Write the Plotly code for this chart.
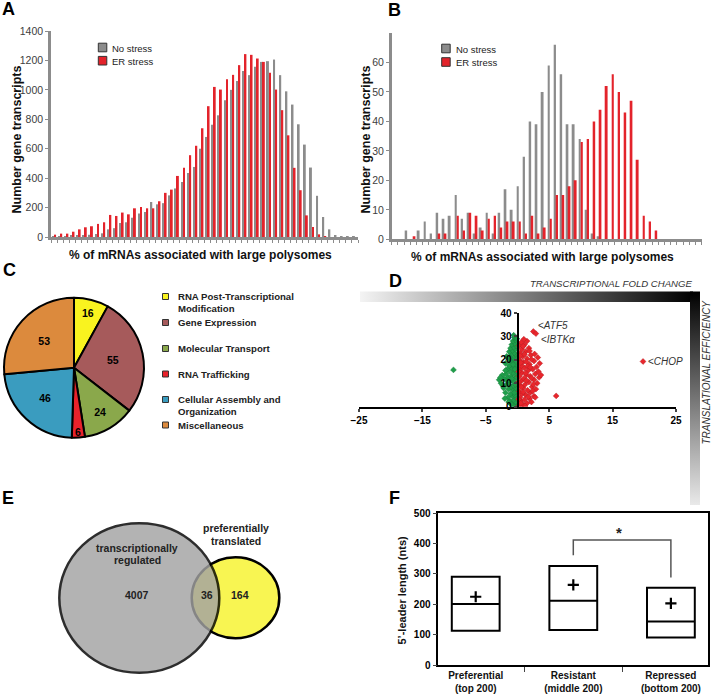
import plotly.graph_objects as go

W, H = 712, 698
FONT = "Liberation Sans, Arial, sans-serif"

# ---------------- data ----------------
bins = list(range(50))
# panel A: all transcripts
a_no_stress = [3, 5, 5, 8, 10, 12, 15, 20, 25, 52, 60, 95, 100, 131, 160, 170, 238, 222, 230, 283,
               330, 374, 435, 476, 600, 680, 763, 827, 930, 1000, 1060, 1128, 1100, 1157, 1190, 1195,
               1206, 1100, 990, 900, 766, 628, 472, 280, 136, 52, 11, 5, 2, 1]
a_er_stress = [16, 23, 23, 36, 52, 66, 73, 89, 100, 150, 143, 166, 154, 195, 204, 195, 195, 243, 300, 322,
               415, 470, 556, 620, 739, 889, 1020, 1002, 1072, 1102, 1168, 1243, 1238, 1213, 1190, 1116,
               1002, 862, 691, 470, 318, 147, 68, 18, 3, 0, 0, 0, 0, 0]
# panel B: selected transcripts
b_no_stress = [0, 0, 3, 0, 3, 6, 2, 9, 7, 8, 15, 7, 9, 2, 4, 9, 2, 9, 17, 10,
               18, 28, 40, 39, 50, 59, 66, 56, 39, 39, 34, 10, 2, 1, 0, 0, 0, 0, 0, 0,
               0, 0, 0, 0, 0, 0, 0, 0, 0, 0]
b_er_stress = [0, 0, 0, 1, 0, 0, 0, 2, 2, 0, 8, 3, 9, 8, 3, 7, 8, 4, 6, 6,
               6, 2, 8, 2, 4, 7, 15, 15, 18, 20, 33, 34, 40, 44, 52, 56, 50, 43, 47, 27,
               8, 6, 3, 0, 0, 0, 0, 0, 0, 0]

# panel C
pie_labels = ["RNA Post-Transcriptional<br>Modification", "Gene Expression", "Molecular Transport",
              "RNA Trafficking", "Cellular Assembly and<br>Organization", "Miscellaneous"]
pie_values = [16, 55, 24, 6, 46, 53]
pie_colors = ["#f9f31f", "#a65a5b", "#8aa84b", "#e8222b", "#3a9cbf", "#dc8a3d"]

# panel D
d_down_x = [-0.2, -0.5, -0.9, -0.3, -1.2, -0.6, -0.1, -1.5, -0.8, -0.4, -1.1, -1.9, -0.2, -0.7, -1.4,
            -2.2, -0.3, -1.0, -0.6, -1.7, -2.6, -0.2, -1.3, -0.8, -2.9, -2.1, -0.4, -1.5, -1.0, -2.4,
            -0.2, -1.8, -0.7, -1.2, -0.3, -1.6, -0.9, -0.5, -1.3, -0.2, -1.9, -0.8, -1.1, -0.4, -1.5,
            -0.6, -1.7, -0.2, -1.0, -0.5, -1.3, -0.8, -0.3, -1.1, -0.6, -0.2, -0.9, -0.4, -0.7, -0.3,
            -0.5, -0.6, -0.1, -1.4, -2.0, -0.5, -1.6, -2.3, -0.9, -0.4, -1.2, -0.7, -0.1, -0.1, -0.3,
            -2.7, -1.9, -0.6, -1.0, -10.1]
d_down_y = [0.5, 1, 1.5, 2, 2.5, 3, 3.5, 4, 4.5, 5, 5.5, 6, 6.5, 7, 7.5,
            8, 8, 8.5, 9, 9.5, 10, 10, 10.5, 11, 11.5, 12, 12, 12.5, 13, 13.5,
            13.5, 14, 14.5, 15, 15.5, 16, 16.5, 17, 17.5, 18, 18.5, 19, 19.5, 20, 20.5,
            21, 21.5, 22, 22.5, 23, 23.5, 24, 24.5, 25, 25.5, 26, 26.5, 27, 28, 28.5,
            29.5, 30.5, 29, 2, 3.5, 6, 11, 9, 12, 16, 21, 18, 20.5, 12.5, 9.5,
            12.5, 15.5, 0.3, 1.0, 15.7]
d_up_x = [0.3, 0.8, 1.5, 2.2, 0.5, 1.1, 1.9, 0.4, 2.6, 1.3, 0.7, 2.0, 0.3, 1.6, 2.9,
          0.9, 2.3, 0.4, 1.2, 3.1, 1.8, 0.6, 2.6, 1.0, 3.4, 0.3, 2.0, 1.4, 2.8, 0.7,
          3.3, 1.7, 0.4, 2.4, 1.1, 3.0, 0.6, 1.9, 3.5, 0.9, 2.6, 0.3, 1.5, 3.2, 0.8,
          2.1, 0.4, 1.3, 2.7, 0.7, 1.8, 0.3, 1.1, 0.6, 1.5, 1.0, 2.5, 2.9, 6.1, 19.8,
          0.5, 1.2, 0.2, 1.7, 0.9, 2.5, 1.4, 0.2, 2.2, 1.6, 0.5, 2.2, 1.1, 0.2, 1.9,
          0.6, 1.3, 2.0, 0.9, 3.7, 2.4, 2.8, 0.4, 1.4]
d_up_y = [0.5, 1, 1.5, 2, 2.5, 3, 3.5, 4, 4.5, 5, 5.5, 6, 6.5, 7, 7.5,
          8, 8.5, 9, 9.5, 10, 10.5, 11, 11.5, 12, 12.5, 13, 13, 13.5, 14, 14.5,
          15, 15.5, 16, 16, 16.5, 17, 17.5, 18, 18.5, 19, 19.5, 20, 20.5, 21, 21.5,
          22, 23, 23.5, 22.5, 24.5, 25, 26, 26.5, 27.5, 28, 28.8, 32.1, 31.2, 4.6, 19.3,
          1.5, 0.3, 3.2, 4.2, 6.3, 9.5, 11.2, 10.5, 12.3, 17.3, 18.8, 20.2, 22.3, 15, 23.8,
          8.4, 14.3, 16.8, 25.8, 13.5, 6.7, 4, 21.8, 19.2]
d_genes = ["&lt;<i>ATF5</i>", "&lt;<i>IBTKα</i>", "&lt;<i>CHOP</i>"]
d_gene_x = [2.5, 2.9, 19.8]
d_gene_y = [32.1, 31.2, 19.3]

# panel E
venn_sets = ["transcriptionally<br>regulated", "preferentially<br>translated"]
venn_counts = [4007, 36, 164]

# panel F
f_groups = ["Preferential<br>(top 200)", "Resistant<br>(middle 200)", "Repressed<br>(bottom 200)"]
f_q1 = [113, 115, 91]
f_median = [201, 212, 143]
f_q3 = [291, 326, 255]
f_mean = [225, 264, 203]
f_bracket_y = [362, 412, 412, 288]

GRAY = "#8c8c8c"
RED = "#e3232b"


def fx(p):
    return p / W


def fy(p):
    return 1 - p / H


def txt(x, y, s, size=10, bold=False, italic=False, color="#111", xanchor="center",
        angle=0, lh=None):
    out = []
    lines = s.split("<br>")
    step = lh if lh else size * 1.2
    for k, line in enumerate(lines):
        out.append(dict(x=x, y=y + k * step, xref="x5", yref="y5",
                        text=line, showarrow=False, xanchor=xanchor, yanchor="middle",
                        textangle=angle, borderpad=0,
                        font=dict(family=FONT, size=size, color=color,
                                  weight="bold" if bold else "normal",
                                  style="italic" if italic else "normal")))
    return out


fig = go.Figure()

# A & B histograms
fig.add_trace(go.Bar(x=bins, y=a_no_stress, marker=dict(color=GRAY, line_width=0), xaxis="x", yaxis="y"))
fig.add_trace(go.Bar(x=bins, y=a_er_stress, marker=dict(color=RED, line_width=0), xaxis="x", yaxis="y"))
fig.add_trace(go.Bar(x=bins, y=b_no_stress, marker=dict(color=GRAY, line_width=0), xaxis="x2", yaxis="y2"))
fig.add_trace(go.Bar(x=bins, y=b_er_stress, marker=dict(color=RED, line_width=0), xaxis="x2", yaxis="y2"))

# C pie
fig.add_trace(go.Pie(values=pie_values, labels=pie_labels, sort=False, direction="clockwise",
                     marker=dict(colors=pie_colors, line=dict(color="black", width=2)),
                     textinfo="value", textposition="inside", insidetextorientation="horizontal",
                     textfont=dict(family=FONT, size=10.5, color="black", weight="bold"),
                     domain=dict(x=[fx(4), fx(144)], y=[fy(437.7), fy(297.7)])))

# D scatter
fig.add_trace(go.Scatter(x=d_down_x, y=d_down_y, mode="markers", xaxis="x3", yaxis="y3",
                         marker=dict(symbol="diamond", size=4.5, color="#1f9e4a",
                                     line=dict(width=0.5, color="#16803a"))))
fig.add_trace(go.Scatter(x=d_up_x, y=d_up_y, mode="markers", xaxis="x3", yaxis="y3",
                         marker=dict(symbol="diamond", size=4.5, color="#e8262c",
                                     line=dict(width=0.5, color="#b81d22"))))

# F boxes
fig.add_trace(go.Box(x=f_groups, q1=f_q1, median=f_median, q3=f_q3, lowerfence=f_q1, upperfence=f_q3,
                     width=0.49, fillcolor="white", line=dict(color="black", width=2),
                     xaxis="x4", yaxis="y4"))
fig.add_trace(go.Scatter(x=f_groups, y=f_mean, mode="markers", xaxis="x4", yaxis="y4",
                         marker=dict(symbol="cross-thin", size=8, line=dict(width=2.2, color="black"))))
fig.add_trace(go.Scatter(x=[f_groups[1], f_groups[1], f_groups[2], f_groups[2]], y=f_bracket_y,
                         mode="lines", line=dict(color="#555", width=1.5), xaxis="x4", yaxis="y4"))

# D gradient bars (pixel overlay axes)
fig.add_trace(go.Scatter(x=[360, 693, 693, 360, 360], y=[291.5, 291.5, 302, 302, 291.5], mode="lines",
                         fill="toself", line=dict(width=0), xaxis="x5", yaxis="y5",
                         fillgradient=dict(type="horizontal", start=345, stop=693,
                                           colorscale=[[0, "white"], [1, "black"]])))
fig.add_trace(go.Scatter(x=[690, 700, 700, 690, 690], y=[291.5, 291.5, 505, 505, 291.5], mode="lines",
                         fill="toself", line=dict(width=0), xaxis="x5", yaxis="y5",
                         fillgradient=dict(type="vertical", start=291.5, stop=525,
                                           colorscale=[[0, "black"], [1, "white"]])))

tickfont = dict(family=FONT, size=10.5, color="#404040")
boldtick = dict(family=FONT, size=10, color="black", weight="bold")

fig.update_layout(
    width=W, height=H, margin=dict(l=0, r=0, t=0, b=0, pad=0, autoexpand=False),
    paper_bgcolor="white", plot_bgcolor="rgba(0,0,0,0)", showlegend=False,
    bargap=0.34, bargroupgap=0.05, barmode="group",
    uniformtext=dict(minsize=10.5, mode="show"),
    font=dict(family=FONT),
    xaxis=dict(domain=[fx(51), fx(358)], range=[-0.5, 49.5], showline=True, linecolor=GRAY,
               linewidth=2.5, ticks="outside", tickmode="linear", tick0=-0.5, dtick=1, ticklen=3,
               tickcolor=GRAY, showticklabels=False, showgrid=False, zeroline=False, anchor="y",
               automargin=False),
    yaxis=dict(domain=[fy(237), fy(31)], range=[0, 1400], tickvals=list(range(0, 1401, 200)),
               showline=True, linecolor=GRAY, linewidth=2.5, ticks="outside", ticklen=3,
               tickcolor=GRAY, tickfont=tickfont, showgrid=False, zeroline=False, anchor="x",
               automargin=False),
    xaxis2=dict(domain=[fx(391.7), fx(701.7)], range=[-0.5, 49.5], showline=True, linecolor=GRAY,
                linewidth=2.5, ticks="outside", tickmode="linear", tick0=-0.5, dtick=1, ticklen=3,
                tickcolor=GRAY, showticklabels=False, showgrid=False, zeroline=False, anchor="y2",
                automargin=False),
    yaxis2=dict(domain=[fy(239.3), fy(33)], range=[0, 70], tickvals=list(range(0, 61, 10)),
                showline=True, linecolor=GRAY, linewidth=2.5, ticks="outside", ticklen=3,
                tickcolor=GRAY, tickfont=tickfont, showgrid=False, zeroline=False, anchor="x2",
                automargin=False),
    xaxis3=dict(domain=[fx(359), fx(676)], range=[-25, 25], tickvals=[-25, -15, -5, 5, 15, 25],
                showline=True, linecolor="black", linewidth=2, ticks="outside", ticklen=3,
                tickwidth=1.5, tickfont=boldtick, showgrid=False, zeroline=False, anchor="y3",
                automargin=False),
    yaxis3=dict(domain=[fy(406.7), fy(313)], range=[0, 40], tickvals=list(range(0, 41, 10)),
                showline=True, linecolor="black", linewidth=2, ticks="outside", ticklen=3,
                tickwidth=1.5, tickfont=boldtick, showgrid=False, zeroline=False,
                anchor="free", position=fx(359 + (676 - 359) / 2), automargin=False),
    xaxis4=dict(domain=[fx(438.3), fx(708.3)], type="category", tickson="boundaries",
                showline=True, mirror=True, linecolor="black", linewidth=1.5, ticks="outside",
                ticklen=5, tickfont=dict(family=FONT, size=10, color="#111", weight="bold"),
                showgrid=False, zeroline=False, anchor="y4", automargin=False),
    yaxis4=dict(domain=[fy(665), fy(513.3)], range=[0, 500], tickvals=list(range(0, 501, 100)),
                showline=True, mirror=True, linecolor="black", linewidth=1.5, ticks="outside",
                ticklen=4, tickfont=boldtick, showgrid=False, zeroline=False, anchor="x4",
                automargin=False),
    xaxis5=dict(domain=[0, 1], range=[0, W], visible=False, anchor="y5", automargin=False),
    yaxis5=dict(domain=[0, 1], range=[H, 0], visible=False, anchor="x5", automargin=False),
)

shapes = []
ann = []

# panel letters
for letter, x, y in [("A", 8.5, 9), ("B", 394.5, 10), ("C", 9, 270), ("D", 395, 281),
                     ("E", 8, 498), ("F", 394, 498)]:
    ann += txt(x, y, letter, size=18, bold=True, color="black")

# legends A and B
for (sx, rows) in [(98.3, [47.5, 60.7]), (441.7, [48.5, 62])]:
    for color, name, ry in zip([GRAY, RED], ["No stress", "ER stress"], rows):
        shapes.append(dict(type="rect", xref="x5", yref="y5", x0=sx, x1=sx + 8.5, y0=ry - 4.3,
                           y1=ry + 4.3, fillcolor=color, line=dict(color="#333", width=1)))
        ann += txt(sx + 13, ry + 0.5, name, size=9.5, color="#222", xanchor="left")

# axis titles A and B
for cx, cy in [(16.5, 140), (365.5, 140)]:
    ann += txt(cx, cy, "Number gene transcripts", size=12.5, bold=True, color="#111", angle=-90)
for cx, cy in [(200, 255), (542, 256.5)]:
    ann += txt(cx, cy, "% of mRNAs associated with large polysomes", size=12, bold=True, color="#111")

# legend C
row_y = [296.5, 322.5, 348.5, 374, 399.5, 425]
for color, label, ry in zip(pie_colors, pie_labels, row_y):
    shapes.append(dict(type="rect", xref="x5", yref="y5", x0=162.5, x1=168.5, y0=ry - 3, y1=ry + 3,
                       fillcolor=color, line=dict(color="#333", width=1)))
    ann += txt(177, ry, label, size=9.6, bold=True, color="#222", xanchor="left", lh=11.7)

# D texts
ann += txt(693, 283, "TRANSCRIPTIONAL FOLD CHANGE", size=9.6, italic=True, color="#333", xanchor="right")
ann += txt(706, 372.5, "TRANSLATIONAL EFFICIENCY", size=10, italic=True, color="#333", angle=-90)
for g, gx, gy, ys in zip(d_genes, d_gene_x, d_gene_y, [6, -6, 0]):
    ann.append(dict(x=gx, y=gy, xref="x3", yref="y3", text=g, showarrow=False, xanchor="left",
                    yanchor="middle", xshift=3, yshift=ys,
                    font=dict(family=FONT, size=10, color="#333")))

# E venn
shapes.append(dict(type="circle", xref="x5", yref="y5", x0=191.7, x1=279.3, y0=557.3, y1=638.3,
                   fillcolor="#f8f552", line=dict(color="black", width=2.5)))
shapes.append(dict(type="circle", xref="x5", yref="y5", x0=59.3, x1=219.3, y0=523.3, y1=672.7,
                   fillcolor="#a3a3a3", opacity=0.82, line=dict(color="black", width=2.5)))
ann += txt(137, 548.3, venn_sets[0], size=10.5, bold=True, color="#222", lh=11.7)
ann += txt(236, 528.3, venn_sets[1], size=10.5, bold=True, color="#222", lh=12.4)
for v, x in zip(venn_counts, [136.5, 206.5, 239.5]):
    ann += txt(x, 595, str(v), size=10.5, bold=True, color="#222")

# F texts
ann += txt(401.5, 590, "5’-leader length (nts)", size=11, bold=True, color="#111", angle=-90)
ann += txt(618.5, 532, "*", size=15, bold=True, color="#222")

fig.update_layout(shapes=shapes, annotations=ann)
# drop the browser's default 8px body margin so the figure sits at the page origin
fig.write_html("out.html", config={"displayModeBar": False},
               post_script="document.body.style.margin='0';")
